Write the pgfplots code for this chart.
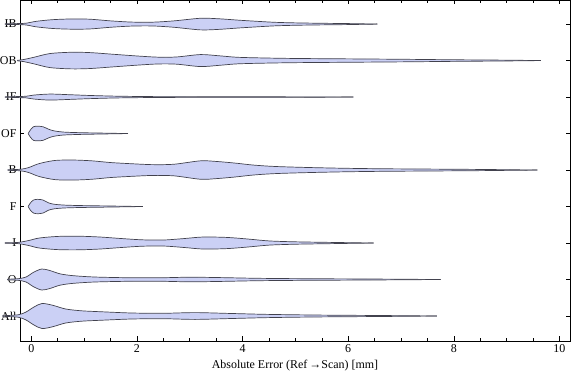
\documentclass[border=0pt]{standalone}
\usepackage{pgfplots}
\pgfplotsset{compat=1.18}
\usepackage{pgfplotstable}
\usepgfplotslibrary{fillbetween}
\usepackage{fontspec}
\setmainfont{Liberation Serif}

\definecolor{vfillc}{RGB}{203,208,245}
\definecolor{vlinec}{RGB}{66,66,78}

% x = absolute error [mm], w = half-width of violin (in px of the original, 1 px = 0.0274 y-units)
\pgfplotstableread{
x w
-0.50 0.3
-0.25 0.5
-0.10 0.9
0.10 2.8
0.40 4.4
0.75 5.1
1.10 4.9
1.50 3.2
1.90 2.0
2.30 1.9
2.70 3.2
3.20 5.8
3.55 5.3
3.90 4.0
4.20 3.0
4.60 1.8
5.00 1.2
5.50 0.8
6.00 0.5
6.55 0.0
}\IB
\pgfplotstableread{
x w
-0.27 0.2
-0.15 1.0
0.05 3.3
0.35 7.0
0.75 8.3
1.10 8.0
1.50 6.5
2.00 4.6
2.40 3.4
2.75 3.6
3.20 6.0
3.55 4.8
3.90 3.3
4.40 2.6
5.00 2.1
6.00 1.7
7.00 1.3
8.00 0.8
9.00 0.4
9.65 0.0
}\OB
\pgfplotstableread{
x w
-0.50 0.2
-0.10 0.8
0.05 2.0
0.35 3.0
0.70 2.4
1.10 1.6
1.60 0.9
2.20 0.5
3.00 0.3
4.50 0.25
6.10 0.0
}\IF
\pgfplotstableread{
x w
-0.06 0.0
-0.02 3.5
0.04 6.8
0.12 7.3
0.22 6.8
0.32 4.5
0.42 2.8
0.60 1.5
0.90 0.9
1.30 0.5
1.83 0.0
}\OF
\pgfplotstableread{
x w
-0.45 0.3
-0.20 0.8
-0.05 2.5
0.15 6.5
0.45 9.6
0.80 10.0
1.15 9.2
1.50 7.5
1.90 6.3
2.30 5.4
2.70 5.8
3.20 9.2
3.50 8.6
3.85 7.0
4.20 5.0
4.60 3.6
5.20 2.6
5.90 1.8
6.60 1.3
7.40 1.0
8.50 0.6
9.58 0.0
}\B
\pgfplotstableread{
x w
-0.06 0.0
-0.02 3.5
0.04 6.5
0.12 7.2
0.22 6.5
0.32 3.8
0.42 2.4
0.60 1.5
0.90 1.0
1.40 0.6
2.11 0.0
}\F
\pgfplotstableread{
x w
-0.50 0.3
-0.25 0.6
-0.05 2.5
0.15 5.0
0.50 6.6
0.90 6.8
1.30 6.0
1.70 4.5
2.10 3.2
2.50 3.0
2.90 4.5
3.25 6.0
3.70 5.6
4.10 4.0
4.50 2.1
5.00 1.2
5.70 0.6
6.48 0.0
}\I
\pgfplotstableread{
x w
-0.46 0.3
-0.25 0.8
-0.10 2.5
0.05 7.5
0.20 10.5
0.35 9.0
0.55 5.6
0.80 3.8
1.20 2.5
1.80 1.8
2.40 1.7
3.00 2.3
3.60 1.9
4.30 1.2
5.20 0.8
6.40 0.5
7.75 0.0
}\O
\pgfplotstableread{
x w
-0.55 0.3
-0.25 1.2
-0.10 4.0
0.05 9.0
0.20 12.5
0.40 10.8
0.65 7.0
0.95 5.2
1.30 4.3
1.90 3.0
2.50 2.7
3.10 3.4
3.80 2.5
4.50 1.6
5.50 0.9
6.60 0.5
7.68 0.0
}\All

\newcommand{\violin}[3]{%
  \addplot[vline, name path=U#3] table[x=x, y expr=#2+0.0274*\thisrow{w}] {#1};
  \addplot[vline, name path=L#3] table[x=x, y expr=#2-0.0274*\thisrow{w}] {#1};
  \addplot[fill=vfillc, draw=none] fill between[of=U#3 and L#3];
}

\begin{document}
\begin{tikzpicture}
\begin{axis}[
  set layers,
  scale only axis,
  width=550bp, height=341bp,
  xmin=-0.215, xmax=10.2,
  ymin=0.315, ymax=9.66,
  clip=false,
  xtick={0,2,...,10},
  minor x tick num=3,
  ytick={1,...,9},
  yticklabels={All,O,I,F,B,OF,IF,OB,IB},
  tick align=inside,
  major tick length=4.5bp,
  minor tick length=2.7bp,
  axis line style={line width=0.8pt},
  tick style={line width=0.6pt, black},
  /pgf/number format/assume math mode=true,
  ticklabel style={font=\fontsize{12}{13}\selectfont},
  xlabel={Absolute Error (Ref\,→Scan) [mm]},
  xlabel style={font=\fontsize{12}{13}\selectfont, yshift=-1bp},
  vline/.style={no markers, smooth, draw=vlinec, line width=0.7pt},
]
\violin{\IB}{9}{a}
\violin{\OB}{8}{b}
\violin{\IF}{7}{c}
\violin{\OF}{6}{d}
\violin{\B}{5}{e}
\violin{\F}{4}{f}
\violin{\I}{3}{g}
\violin{\O}{2}{h}
\violin{\All}{1}{i}
\end{axis}
\pgfresetboundingbox
\path[use as bounding box] ([xshift=-20bp,yshift=-40bp]current axis.south west) rectangle ([xshift=6bp]current axis.north east);
\end{tikzpicture}
\end{document}
